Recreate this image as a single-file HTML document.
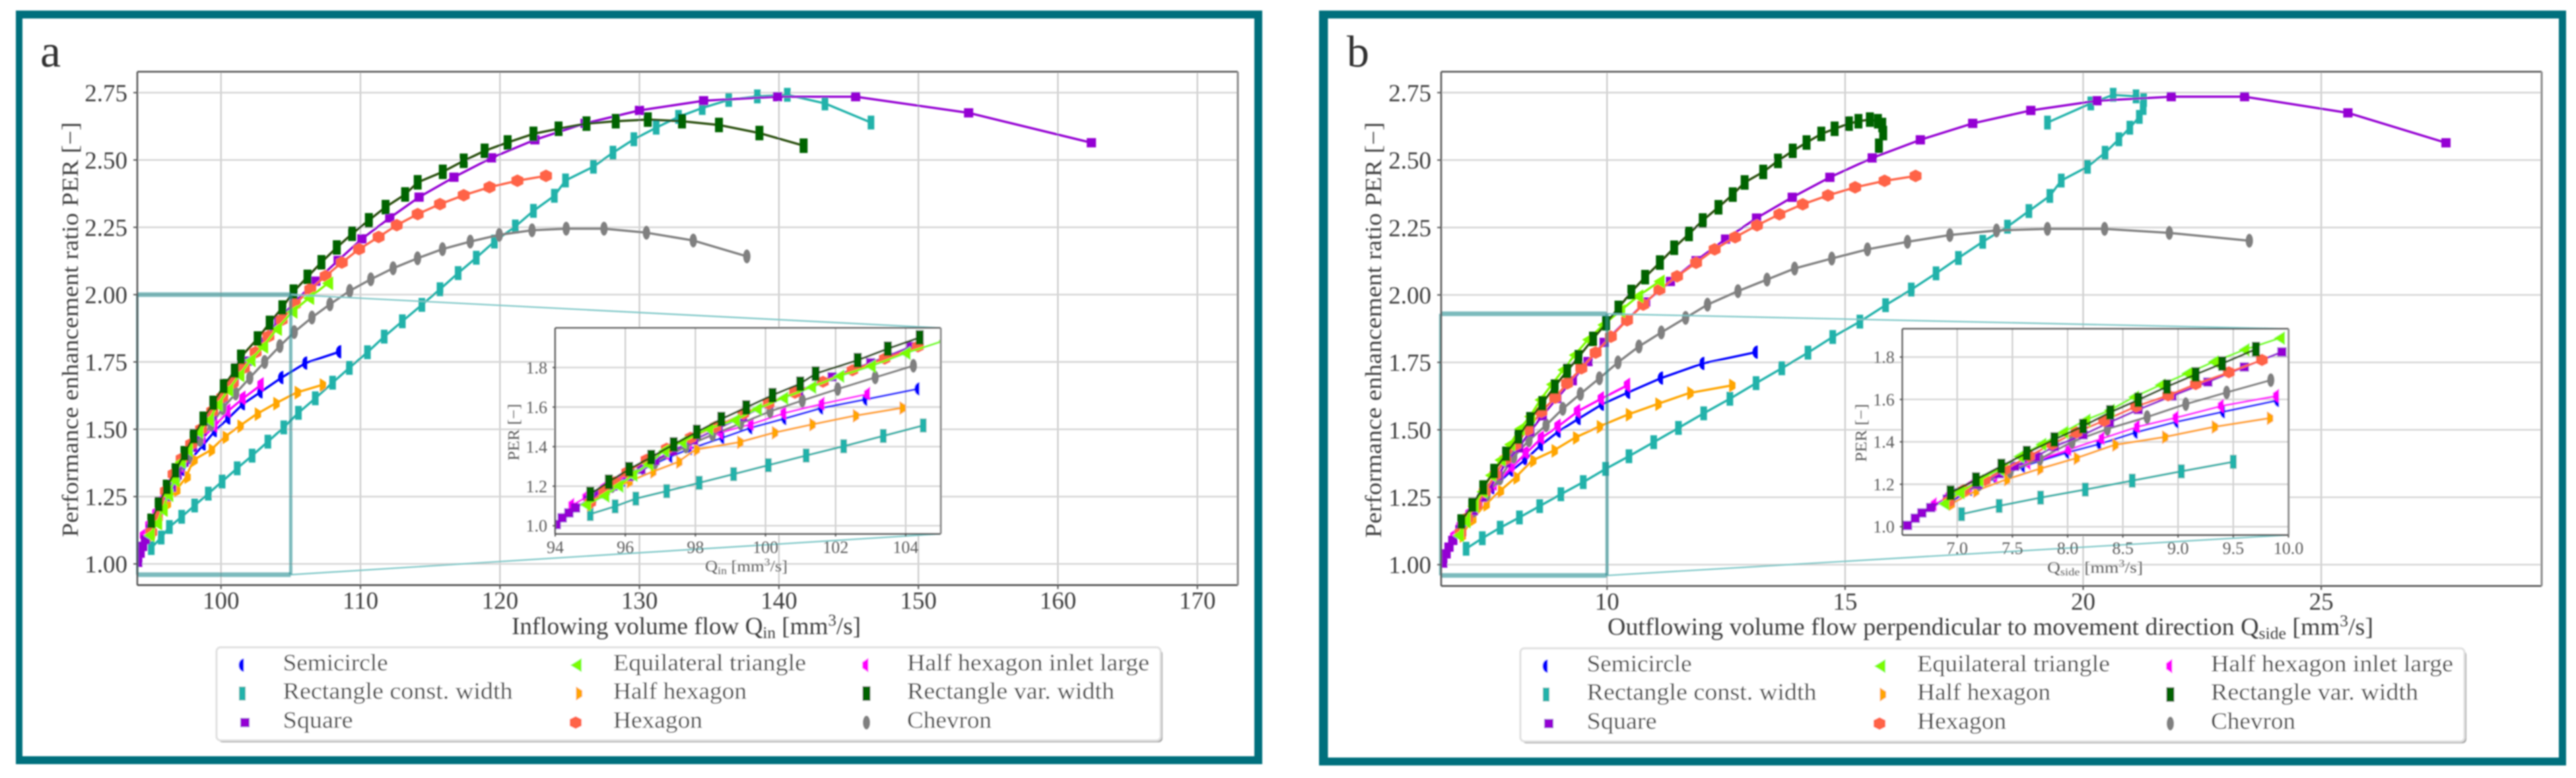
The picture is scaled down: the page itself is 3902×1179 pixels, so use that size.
<!DOCTYPE html>
<html lang="en">
<head>
<meta charset="utf-8">
<title>Performance enhancement ratio charts</title>
<style>
html,body{margin:0;padding:0;background:#fff;}
svg{display:block;}
text{font-family:"Liberation Serif","DejaVu Serif",serif;fill:#333;}
.leg{font-size:36px;fill:#3d3d3d;}
.axt{font-size:37px;fill:#3d3d3d;}
.ylab{font-size:35px;fill:#444;}
.inl{font-size:24px;fill:#5c5c5c;}
</style>
</head>
<body>
<svg id="chart" xmlns="http://www.w3.org/2000/svg" width="3902" height="1179" viewBox="0 0 3902 1179">
<defs>
<filter id="soft" filterUnits="userSpaceOnUse" x="0" y="0" width="3902" height="1179"><feGaussianBlur stdDeviation="1"/></filter>
</defs>
<rect width="3902" height="1179" fill="#fff"/>
<g id="root" filter="url(#soft)">
  <path fill="#01707d" fill-rule="evenodd" d="M24 16H1912V1158H24ZM34 28V1146H1900V28Z"/>
  <path fill="#01707d" fill-rule="evenodd" d="M1998 16H3887V1160H1998ZM2011.5 28V1148H3876V28Z"/>

  <g id="panelA"></g>
  <g id="panelB"></g>

  <text x="61" y="101" font-size="70">a</text>
  <text x="2040" y="101" font-size="68">b</text>

  <text class="axt" x="775" y="961" textLength="529" lengthAdjust="spacingAndGlyphs">Inflowing volume flow Q<tspan font-size="25" dy="6">in</tspan><tspan dy="-6"> [mm</tspan><tspan font-size="25" dy="-13">3</tspan><tspan dy="13">/s]</tspan></text>
  <text class="ylab" x="118" y="814" transform="rotate(-90 118 814)" textLength="629" lengthAdjust="spacingAndGlyphs">Performance enhancement ratio PER [−]</text>
  <text class="axt" x="2435" y="962" textLength="1160" lengthAdjust="spacingAndGlyphs">Outflowing volume flow perpendicular to movement direction Q<tspan font-size="25" dy="6">side</tspan><tspan dy="-6"> [mm</tspan><tspan font-size="25" dy="-13">3</tspan><tspan dy="13">/s]</tspan></text>
  <text class="ylab" x="2092" y="815" transform="rotate(-90 2092 815)" textLength="630" lengthAdjust="spacingAndGlyphs">Performance enhancement ratio PER [−]</text>

  <text class="inl" x="1068" y="866" textLength="125" lengthAdjust="spacingAndGlyphs">Q<tspan font-size="16" dy="4">in</tspan><tspan dy="-4"> [mm</tspan><tspan font-size="16" dy="-9">3</tspan><tspan dy="9">/s]</tspan></text>
  <text class="inl" x="786" y="698" transform="rotate(-90 786 698)" textLength="86" lengthAdjust="spacingAndGlyphs">PER [−]</text>
  <text class="inl" x="3101" y="868" textLength="145" lengthAdjust="spacingAndGlyphs">Q<tspan font-size="16" dy="4">side</tspan><tspan dy="-4"> [mm</tspan><tspan font-size="16" dy="-9">3</tspan><tspan dy="9">/s]</tspan></text>
  <text class="inl" x="2827" y="700" transform="rotate(-90 2827 700)" textLength="88" lengthAdjust="spacingAndGlyphs">PER [−]</text>

  <g id="legendA">
    <rect x="331" y="985" width="1430" height="140" rx="6" fill="#ababab"/>
    <rect x="328" y="981" width="1430" height="141" rx="6" fill="#fff" stroke="#e0e0e0" stroke-width="3"/>
    <text class="leg" x="428.6" y="1016" textLength="159" lengthAdjust="spacingAndGlyphs">Semicircle</text>
    <text class="leg" x="428.6" y="1059" textLength="348" lengthAdjust="spacingAndGlyphs">Rectangle const. width</text>
    <text class="leg" x="428.6" y="1103" textLength="106" lengthAdjust="spacingAndGlyphs">Square</text>
    <text class="leg" x="929" y="1016" textLength="292" lengthAdjust="spacingAndGlyphs">Equilateral triangle</text>
    <text class="leg" x="929" y="1059" textLength="202" lengthAdjust="spacingAndGlyphs">Half hexagon</text>
    <text class="leg" x="929" y="1103" textLength="135" lengthAdjust="spacingAndGlyphs">Hexagon</text>
    <text class="leg" x="1374" y="1016" textLength="367" lengthAdjust="spacingAndGlyphs">Half hexagon inlet large</text>
    <text class="leg" x="1374" y="1059" textLength="314" lengthAdjust="spacingAndGlyphs">Rectangle var. width</text>
    <text class="leg" x="1374" y="1103" textLength="128" lengthAdjust="spacingAndGlyphs">Chevron</text>
  </g>
  <g id="legendB" transform="translate(1975,1.5)">
    <rect x="331" y="985" width="1430" height="140" rx="6" fill="#ababab"/>
    <rect x="328" y="981" width="1430" height="141" rx="6" fill="#fff" stroke="#e0e0e0" stroke-width="3"/>
    <text class="leg" x="428.6" y="1016" textLength="159" lengthAdjust="spacingAndGlyphs">Semicircle</text>
    <text class="leg" x="428.6" y="1059" textLength="348" lengthAdjust="spacingAndGlyphs">Rectangle const. width</text>
    <text class="leg" x="428.6" y="1103" textLength="106" lengthAdjust="spacingAndGlyphs">Square</text>
    <text class="leg" x="929" y="1016" textLength="292" lengthAdjust="spacingAndGlyphs">Equilateral triangle</text>
    <text class="leg" x="929" y="1059" textLength="202" lengthAdjust="spacingAndGlyphs">Half hexagon</text>
    <text class="leg" x="929" y="1103" textLength="135" lengthAdjust="spacingAndGlyphs">Hexagon</text>
    <text class="leg" x="1374" y="1016" textLength="367" lengthAdjust="spacingAndGlyphs">Half hexagon inlet large</text>
    <text class="leg" x="1374" y="1059" textLength="314" lengthAdjust="spacingAndGlyphs">Rectangle var. width</text>
    <text class="leg" x="1374" y="1103" textLength="128" lengthAdjust="spacingAndGlyphs">Chevron</text>
  </g>
</g>
</svg>
<script>
// ---- data ----
const semicircleQin=[95.0,95.45,95.95,96.5,97.3,97.86,98.78,99.58,100.55,101.6,102.86,104.35,106.06,108.5];
const semicircleQside=[6.95,7.12,7.35,7.6,8.0,8.29,8.62,8.99,9.41,9.9,10.45,11.14,12.01,13.13];
const semicirclePer=[1.12,1.175,1.23,1.285,1.35,1.39,1.445,1.495,1.542,1.595,1.639,1.692,1.746,1.788];

const rectConstQin=[95.0,95.71,96.3,97.18,98.11,99.09,100.08,101.16,102.23,103.36,104.5,105.55,106.76,108.0,109.2,110.5,111.7,113.0,114.4,115.7,117.0,118.3,119.6,121.1,122.4,123.9,124.7,126.7,128.1,129.6,131.2,132.8,134.5,136.4,138.45,140.6,143.3,146.6];
const rectConstQside=[7.04,7.38,7.755,8.16,8.585,9.03,9.50,9.97,10.46,10.98,11.5,12.03,12.58,13.13,13.67,14.22,14.74,15.31,15.85,16.39,16.91,17.38,17.89,18.41,18.86,19.3,19.54,20.09,20.46,20.75,20.98,21.18,21.26,21.27,21.11,20.63,20.16,19.25];
const rectConstPer=[1.059,1.098,1.137,1.175,1.217,1.261,1.306,1.355,1.402,1.454,1.507,1.561,1.615,1.673,1.728,1.786,1.844,1.901,1.962,2.02,2.08,2.137,2.197,2.253,2.311,2.367,2.424,2.475,2.527,2.577,2.62,2.66,2.693,2.723,2.736,2.742,2.71,2.639];

const squareQin=[94.03,94.2,94.39,94.58,94.95,95.25,95.65,96.1,96.45,96.85,97.35,97.95,98.65,99.35,100.1,100.95,101.9,103,104.15,105.3,106.8,108.4,110.1,112.1,114.2,116.7,119.4,122.5,126.1,130,134.6,139.9,145.5,153.6,162.4];
const squareQside=[6.55,6.62,6.68,6.76,6.91,7.02,7.19,7.38,7.52,7.71,7.88,8.14,8.38,8.64,8.945,9.27,9.60,9.94,10.41,10.81,11.33,11.87,12.49,13.14,13.89,14.68,15.57,16.58,17.68,18.9,20.29,21.85,23.39,25.56,27.62];
const squarePer=[1.006,1.04,1.065,1.09,1.13,1.16,1.20,1.25,1.285,1.33,1.378,1.433,1.492,1.552,1.616,1.682,1.753,1.824,1.906,1.974,2.05,2.127,2.207,2.285,2.362,2.436,2.508,2.575,2.636,2.684,2.72,2.735,2.735,2.675,2.564];

const triangleQin=[94.87,95.4,95.8,96.2,96.65,97.1,97.6,98.36,99.12,99.75,100.5,101.3,102.1,103.0,103.99,105.1,106.3,107.66];
const trianglePerIn=[1.106,1.15,1.20,1.255,1.31,1.378,1.422,1.49,1.533,1.59,1.645,1.70,1.756,1.806,1.872,1.936,1.987,2.042];
const triangleQside=[6.88,7.02,7.19,7.38,7.56,7.76,7.96,8.16,8.38,8.6,8.84,9.08,9.32,9.6,9.92,10.27,10.65,11.1];
const trianglePerSide=[1.108,1.16,1.217,1.27,1.331,1.388,1.445,1.502,1.549,1.611,1.668,1.722,1.777,1.834,1.889,1.94,1.995,2.05];

const halfHexQin=[94.95,95.42,96.09,96.76,97.5,98.0,99.24,100.23,101.3,102.54,103.87,105.4,107.2];
const halfHexQside=[6.94,7.16,7.44,7.74,8.07,8.42,8.87,9.32,9.82,10.43,11.05,11.72,12.6];
const halfHexPer=[1.106,1.167,1.222,1.272,1.322,1.385,1.422,1.47,1.511,1.556,1.595,1.636,1.664];

const hexagonQin=[95.0,95.4,95.7,96.05,96.6,97.18,97.86,98.57,99.37,100.09,100.84,101.64,102.48,103.4,104.35,105.3,106.4,107.5,108.66,109.9,111.3,112.6,114.1,115.7,117.4,119.25,121.25,123.3];
const hexagonQside=[6.92,7.06,7.25,7.43,7.65,7.86,8.08,8.33,8.62,8.91,9.16,9.46,9.76,10.08,10.42,10.76,11.1,11.47,11.87,12.26,12.69,13.15,13.62,14.11,14.64,15.21,15.83,16.48];
const hexagonPer=[1.118,1.172,1.22,1.27,1.333,1.39,1.445,1.50,1.567,1.619,1.672,1.728,1.786,1.845,1.906,1.964,2.02,2.069,2.119,2.169,2.214,2.258,2.299,2.336,2.369,2.399,2.423,2.441];

const halfHexInletQin=[94.5,94.9,95.4,95.9,96.5,97.2,97.86,98.74,99.62,100.55,101.64,102.94];
const halfHexInletQside=[6.8,6.93,7.12,7.35,7.65,8.02,8.32,8.64,8.99,9.4,9.9,10.45];
const halfHexInletPer=[1.106,1.145,1.19,1.24,1.30,1.365,1.417,1.472,1.515,1.57,1.617,1.667];

const rectVarQin=[95.0,95.53,96.11,96.74,97.38,98.04,98.74,99.45,100.2,100.99,101.43,102.63,103.49,104.4,105.2,106.2,107.2,108.3,109.4,110.6,111.8,113.2,114.1,115.9,117.4,118.9,120.55,122.4,124.2,126.2,128.3,130.6,133.05,135.7,138.6,141.77];
const rectVarQside=[6.94,7.17,7.40,7.63,7.88,8.14,8.385,8.64,8.90,9.16,9.40,9.705,9.98,10.24,10.51,10.80,11.11,11.41,11.72,12.01,12.34,12.64,12.89,13.28,13.59,13.90,14.19,14.50,14.78,15.08,15.28,15.52,15.69,15.78,15.80,15.71];
const rectVarPer=[1.16,1.222,1.286,1.347,1.411,1.474,1.539,1.598,1.66,1.718,1.769,1.837,1.895,1.952,2.011,2.066,2.12,2.175,2.226,2.276,2.325,2.372,2.417,2.456,2.497,2.534,2.565,2.597,2.616,2.635,2.644,2.65,2.644,2.63,2.60,2.553];

const chevronQin=[95.08,95.63,96.2,96.85,97.73,98.49,99.29,100.13,101.05,102.06,103.13,104.22,105.25,106.52,107.81,109.23,110.74,112.34,114.09,115.88,117.87,119.95,122.3,124.75,127.46,130.5,133.86,137.7];
const chevronQside=[6.95,7.2,7.48,7.75,8.04,8.36,8.72,9.07,9.44,9.84,10.23,10.67,11.14,11.65,12.11,12.75,13.36,13.94,14.72,15.47,16.31,17.2,18.18,19.25,20.45,21.81,23.49];
const chevronPer=[1.13,1.20,1.26,1.32,1.40,1.461,1.517,1.578,1.633,1.691,1.75,1.809,1.861,1.915,1.964,2.014,2.057,2.098,2.135,2.169,2.197,2.222,2.239,2.245,2.245,2.23,2.201,2.142];

// tick labels
const mainAXTicks=[100,110,120,130,140,150,160,170];
const mainBXTicks=[10,15,20,25];
const mainYTicks=[1.00,1.25,1.50,1.75,2.00,2.25,2.50,2.75];
const insetAXTicks=[94,96,98,100,102,104];
const insetBXTicks=[7.0,7.5,8.0,8.5,9.0,9.5,10.0];
const insetYTicks=[1.0,1.2,1.4,1.6,1.8];

// zoom windows [xMin,xMax,yMin,yMax]
const zoomWindowA=[94,105,0.96,2.0];
const zoomWindowB=[6.5,10,0.96,1.93];

// ---- drawing ----
const NS='http://www.w3.org/2000/svg';
function make(tag,attrs,parent){
  const el=document.createElementNS(NS,tag);
  for(const k in attrs) el.setAttribute(k,attrs[k]);
  if(parent) parent.appendChild(el);
  return el;
}
const linear=(d0,d1,r0,r1)=>v=>r0+(v-d0)*(r1-r0)/(d1-d0);

const seriesList=[
  {id:'rectangle-const-width',color:'#20b2aa',line:'#20b2aa',shape:'rectConst',xa:rectConstQin,ya:rectConstPer,xb:rectConstQside,yb:rectConstPer},
  {id:'semicircle',color:'#0000ff',line:'#0000ff',shape:'semicircle',xa:semicircleQin,ya:semicirclePer,xb:semicircleQside,yb:semicirclePer},
  {id:'half-hexagon-inlet-large',color:'#ff00ff',line:'#ff00ff',shape:'halfLeft',xa:halfHexInletQin,ya:halfHexInletPer,xb:halfHexInletQside,yb:halfHexInletPer},
  {id:'half-hexagon',color:'#ffa500',line:'#ffa500',shape:'halfRight',xa:halfHexQin,ya:halfHexPer,xb:halfHexQside,yb:halfHexPer},
  {id:'chevron',color:'#808080',line:'#808080',shape:'chevron',xa:chevronQin,ya:chevronPer,xb:chevronQside,yb:chevronPer},
  {id:'square',color:'#9400d3',line:'#9400d3',shape:'square',xa:squareQin,ya:squarePer,xb:squareQside,yb:squarePer},
  {id:'hexagon',color:'#ff6347',line:'#ff6347',shape:'hexagon',xa:hexagonQin,ya:hexagonPer,xb:hexagonQside,yb:hexagonPer},
  {id:'equilateral-triangle',color:'#7cfc00',line:'#7cfc00',shape:'triangle',xa:triangleQin,ya:trianglePerIn,xb:triangleQside,yb:trianglePerSide},
  {id:'rectangle-var-width',color:'#006400',line:'#2a4f10',shape:'rectVar',xa:rectVarQin,ya:rectVarPer,xb:rectVarQside,yb:rectVarPer}
];

function drawMarker(parent,shape,color,x,y){
  let m;
  const t='translate('+x+','+y+')';
  if(shape==='square') m=make('rect',{x:-7,y:-7,width:14,height:14,fill:color,transform:t},parent);
  else if(shape==='rectConst') m=make('rect',{x:-5,y:-10.5,width:10,height:21,fill:color,transform:t},parent);
  else if(shape==='rectVar') m=make('rect',{x:-6,y:-11,width:12,height:22,fill:color,transform:t},parent);
  else if(shape==='chevron') m=make('ellipse',{cx:0,cy:0,rx:5.5,ry:10.5,fill:color,transform:t},parent);
  else if(shape==='hexagon') m=make('polygon',{points:'0,-9.5 9,-5 9,5 0,9.5 -9,5 -9,-5',fill:color,transform:t},parent);
  else if(shape==='triangle') m=make('polygon',{points:'-9,0 8,-10.5 8,10.5',fill:color,transform:t},parent);
  else if(shape==='semicircle') m=make('path',{d:'M2.5,-10 A8,10 0 0 0 2.5,10 Z',fill:color,transform:t},parent);
  else if(shape==='halfLeft') m=make('polygon',{points:'2.5,-11 -7,-4.5 -7,4.5 2.5,11',fill:color,transform:t},parent);
  else m=make('polygon',{points:'-2.5,-10.5 7,-4.5 7,4.5 -2.5,10.5',fill:color,transform:t},parent);
  return m;
}

function drawSeries(parent,xScale,yScale,clipId,lineWidth,keyX,keyY,xLimit){
  const wrap=make('g',{'clip-path':'url(#'+clipId+')'},parent);
  
  
  seriesList.forEach(s=>{
    const xs=s[keyX], ys=s[keyY];
    const n=Math.min(xs.length,ys.length);
    const idx=[];
    for(let i=0;i<n;i++){ if(xs[i]<=xLimit) idx.push(i); }
    const pts=idx.map(i=>xScale(xs[i]).toFixed(2)+','+yScale(ys[i]).toFixed(2));
    const line=make('polyline',{points:pts.join(' '),fill:'none',stroke:s.line,'stroke-width':lineWidth,'stroke-linejoin':'round'},wrap);
    
    
    idx.forEach(i=>{
      const m=drawMarker(wrap,s.shape,s.color,xScale(xs[i]),yScale(ys[i]));
      
      
    });
  });
}

function drawAxes(parent,box,xScale,yScale,xTicks,yTicks,fmtX,fmtY,opt){
  // grid
  xTicks.forEach(v=>{
    const g=make('line',{x1:xScale(v),x2:xScale(v),y1:box.top,y2:box.bottom,stroke:'#c4c4c4','stroke-width':2},parent);
    
    
  });
  yTicks.forEach(v=>{
    const g=make('line',{x1:box.left,x2:box.right,y1:yScale(v),y2:yScale(v),stroke:'#d4d4d4','stroke-width':2.4},parent);
    
    
  });
  return function finish(){
    const sp=[
      ['spine-top',box.left,box.top,box.right,box.top,'#585858',2.6],
      ['spine-left',box.left,box.top,box.left,box.bottom,'#585858',2.6],
      ['spine-bottom',box.left,box.bottom,box.right,box.bottom,'#4c4c4c',2.6],
      ['spine-right',box.right,box.top,box.right,box.bottom,'#8a8a8a',3]
    ];
    sp.forEach(a=>{
      const l=make('line',{x1:a[1],y1:a[2],x2:a[3],y2:a[4],stroke:a[5],'stroke-width':a[6]},parent);
      
      
    });
    xTicks.forEach(v=>{
      const t=make('line',{x1:xScale(v),x2:xScale(v),y1:box.bottom,y2:box.bottom+opt.tick,stroke:'#555','stroke-width':2},parent);
      
      
      const lab=make('text',{x:xScale(v),y:box.bottom+opt.xOff,'text-anchor':'middle','font-size':opt.font,style:'fill:'+opt.color},parent);
      lab.textContent=fmtX(v);
      
      
    });
    yTicks.forEach(v=>{
      const t=make('line',{x1:box.left-opt.tick,x2:box.left,y1:yScale(v),y2:yScale(v),stroke:'#555','stroke-width':2},parent);
      
      
      const lab=make('text',{x:box.left-opt.yOff,y:yScale(v)+opt.yBase,'text-anchor':'end','font-size':opt.font,style:'fill:'+opt.color},parent);
      lab.textContent=fmtY(v);
      
      
    });
  };
}

function addClip(id,box){
  const defs=document.querySelector('defs');
  const c=make('clipPath',{id:id},defs);
  make('rect',{x:box.left,y:box.top,width:box.right-box.left,height:box.bottom-box.top},c);
}

function drawPanel(cfg){
  const g=document.getElementById(cfg.gid);
  const mb=cfg.main, ib=cfg.inset;
  const mx=linear(mb.x0,mb.x1,mb.left,mb.right), my=linear(mb.y0,mb.y1,mb.bottom,mb.top);
  const ix=linear(ib.x0,ib.x1,ib.left,ib.right), iy=linear(ib.y0,ib.y1,ib.bottom,ib.top);
  addClip(cfg.gid+'MainClip',mb);
  addClip(cfg.gid+'InsetClip',ib);

  const finishMain=drawAxes(g,mb,mx,my,cfg.xTicks,mainYTicks,v=>String(v),v=>v.toFixed(2),
    {tick:6,xOff:36,yOff:15,yBase:13,font:37,color:'#3d3d3d'});
  drawSeries(g,mx,my,cfg.gid+'MainClip',3.4,cfg.keyX,cfg.keyY,Infinity);

  // zoom rectangle and connectors
  const w=cfg.win;
  const rx0=mx(w[0]),rx1=mx(w[1]),ry0=my(w[2]),ry1=my(w[3]);
  [[ib.right,ib.top,rx1,ry1,'connector-top'],[ib.right,ib.bottom,rx1,ry0,'connector-bottom']].forEach(c=>{
    const l=make('line',{x1:c[2],y1:c[3],x2:c[0],y2:c[1],stroke:'#7cc6c6','stroke-width':2.2},g);
    
    
  });
  const zoomCol='rgba(47,145,148,0.62)';
  [[rx0,ry1,rx1,ry1,7],[rx0,ry0,rx1,ry0,7],[rx1,ry1,rx1,ry0,5],[rx0,ry1,rx0,ry0,4]].forEach(a=>{
    const l=make('line',{x1:a[0],y1:a[1],x2:a[2],y2:a[3],stroke:zoomCol,'stroke-width':a[4]},g);
    
    
  });
  finishMain();

  // inset: only the measurements inside the zoomed flow range are plotted
  const bg=make('rect',{x:ib.left,y:ib.top,width:ib.right-ib.left,height:ib.bottom-ib.top,fill:'#fff'},g);
  
  
  const finishInset=drawAxes(g,ib,ix,iy,cfg.insetXTicks,insetYTicks,cfg.fmtInsetX,v=>v.toFixed(1),
    {tick:4,xOff:29,yOff:12,yBase:9,font:26,color:'#5c5c5c'});
  drawSeries(g,ix,iy,cfg.gid+'InsetClip',3.3,cfg.keyX,cfg.keyY,cfg.insetLimit);
  finishInset();
}

drawPanel({gid:'panelA',keyX:'xa',keyY:'ya',win:zoomWindowA,xTicks:mainAXTicks,insetXTicks:insetAXTicks,fmtInsetX:v=>String(v),insetLimit:105.15,
  main:{left:208,right:1875,top:108.7,bottom:886.7,x0:94,x1:172.9,y0:0.9213,y1:2.8277},
  inset:{left:841,right:1425,top:497,bottom:809,x0:94,x1:105,y0:0.959,y1:2.0}});
drawPanel({gid:'panelB',keyX:'xb',keyY:'yb',win:zoomWindowB,xTicks:mainBXTicks,insetXTicks:insetBXTicks,fmtInsetX:v=>v.toFixed(1),insetLimit:9.95,
  main:{left:2183,right:3850,top:108.7,bottom:888,x0:6.516,x1:29.63,y0:0.921,y1:2.8275},
  inset:{left:2881.7,right:3466.5,top:498.3,bottom:810.7,x0:6.504,x1:10,y0:0.961,y1:1.933}});

// legend markers
const legendEntries=[
  ['semicircle','semicircle','#0000ff',367,1008],
  ['rectangle-const-width','rectConst','#20b2aa',367,1051],
  ['square','square','#9400d3',371,1095],
  ['equilateral-triangle','triangle','#7cfc00',873,1008],
  ['half-hexagon','halfRight','#ffa500',875,1051],
  ['hexagon','hexagon','#ff6347',872,1095],
  ['half-hexagon-inlet-large','halfLeft','#ff00ff',1313,1008],
  ['rectangle-var-width','rectVar','#006400',1312.5,1051],
  ['chevron','chevron','#808080',1312.5,1095]
];
['legendA','legendB'].forEach(id=>{
  const host=document.getElementById(id);
  legendEntries.forEach(e=>{
    const m=drawMarker(host,e[1],e[2],e[3],e[4]);
    
    
  });
});
</script>
</body>
</html>
